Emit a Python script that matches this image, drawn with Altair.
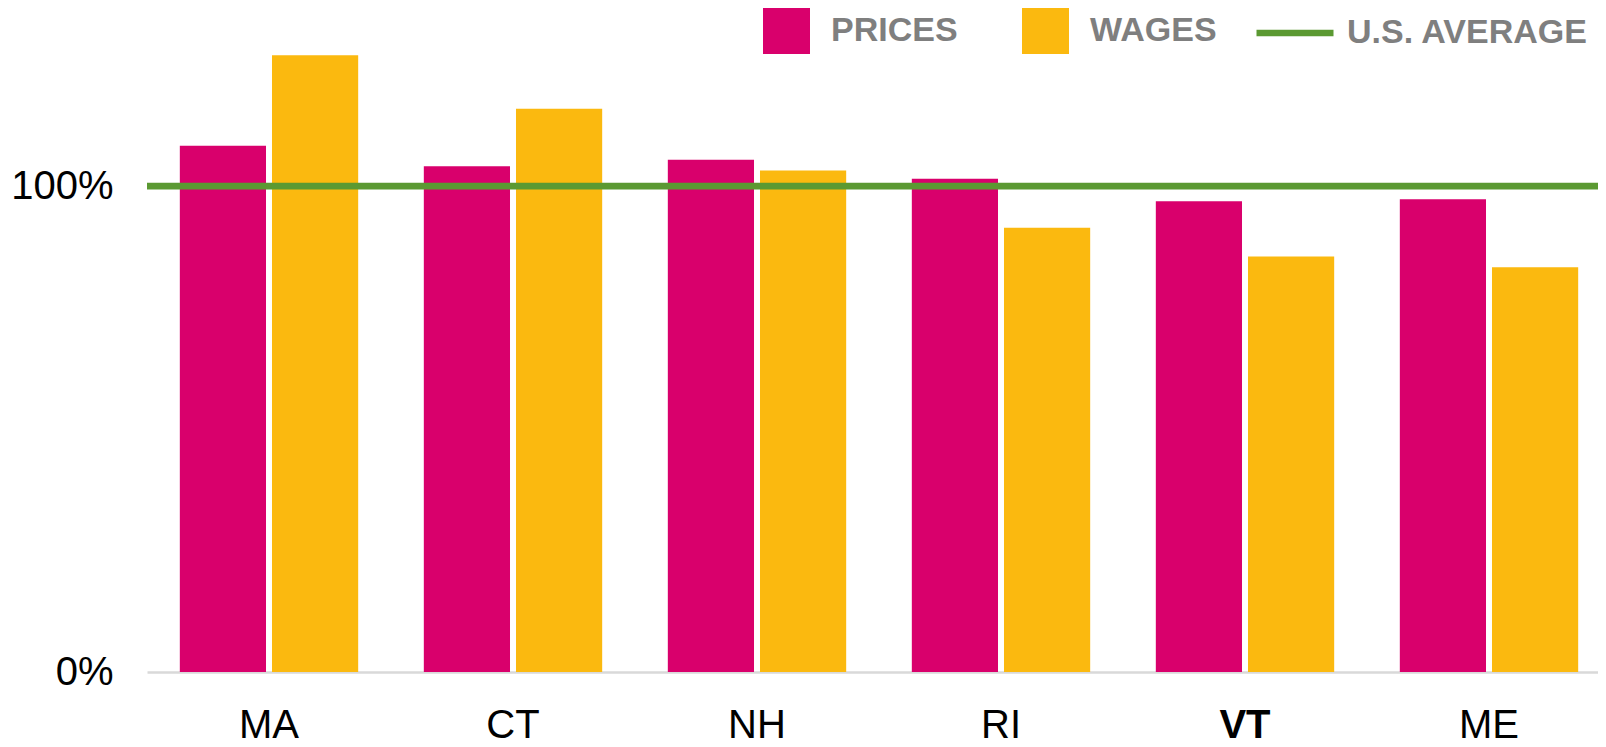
import altair as alt
import pandas as pd

states = ["MA", "CT", "NH", "RI", "VT", "ME"]
prices = [1.083, 1.041, 1.054, 1.015, 0.969, 0.973]
wages = [1.269, 1.159, 1.032, 0.914, 0.855, 0.833]
series_names = ["PRICES", "WAGES"]
series_colors = ["#D9006C", "#FBB90F"]
avg_label = ["U.S. AVERAGE"]
avg_value = [1.0]
avg_color = ["#5B9932"]
y_ticks = [0, 1]

rows = []
for s, p, w in zip(states, prices, wages):
    rows.append({"state": s, "series": series_names[0], "value": p})
    rows.append({"state": s, "series": series_names[1], "value": w})
df = pd.DataFrame(rows)
avg_df = pd.DataFrame({"label": avg_label, "value": avg_value})

FONT = "Liberation Sans"

bars = alt.Chart(df).mark_bar().encode(
    x=alt.X(
        "state:N", sort=states, title=None,
        scale=alt.Scale(range=[0, 1464], paddingInner=0.269, paddingOuter=0.1345),
        axis=alt.Axis(
            labelAngle=0, labelFontSize=40, labelColor="#000000", labelPadding=33,
            ticks=False, domainColor="#D9D9D9", domainWidth=2.5, labelFont=FONT,
            labelFontWeight=alt.condition("datum.value == 'VT'", alt.value("bold"), alt.value("normal")),
        ),
    ),
    xOffset=alt.XOffset("series:N", sort=series_names,
                        scale=alt.Scale(paddingInner=0.065, paddingOuter=0)),
    y=alt.Y(
        "value:Q", title=None,
        scale=alt.Scale(domain=[0, 1.35], nice=False),
        axis=alt.Axis(values=y_ticks, format=".0%", labelFontSize=40, labelColor="#000000",
                      labelPadding=34, ticks=False, domain=False, grid=False, labelFont=FONT),
    ),
    fill=alt.Fill(
        "series:N",
        scale=alt.Scale(domain=series_names, range=series_colors),
        legend=alt.Legend(
            title=None, orient="none", direction="horizontal",
            legendX=616, legendY=-9, padding=0,
            symbolType="square", symbolSize=2209, symbolStrokeWidth=0, symbolOpacity=1,
            labelFont=FONT, labelFontSize=34, labelFontWeight="bold", labelColor="#7F7F7F",
            labelOffset=21, columnPadding=64, labelLimit=400,
        ),
    ),
)

rule = alt.Chart(avg_df).mark_rule(strokeWidth=6.7).encode(
    y=alt.Y("value:Q"),
    stroke=alt.Stroke(
        "label:N",
        scale=alt.Scale(domain=avg_label, range=avg_color),
        legend=alt.Legend(
            title=None, orient="none", direction="horizontal",
            legendX=1106, legendY=-25, padding=0,
            symbolType="stroke", symbolSize=5929, symbolStrokeWidth=6.7,
            labelFont=FONT, labelFontSize=34, labelFontWeight="bold", labelColor="#7F7F7F",
            labelOffset=10, labelLimit=400,
        ),
    ),
)

chart = alt.layer(bars, rule).properties(
    width=1451, height=656,
    autosize=alt.AutoSizeParams(type="none"),
    padding={"left": 139, "top": 8, "right": 0, "bottom": 67},
).configure(font=FONT).configure_view(strokeWidth=0, stroke="transparent")

chart.save("out.html", embed_options={"renderer": "svg", "actions": False})
